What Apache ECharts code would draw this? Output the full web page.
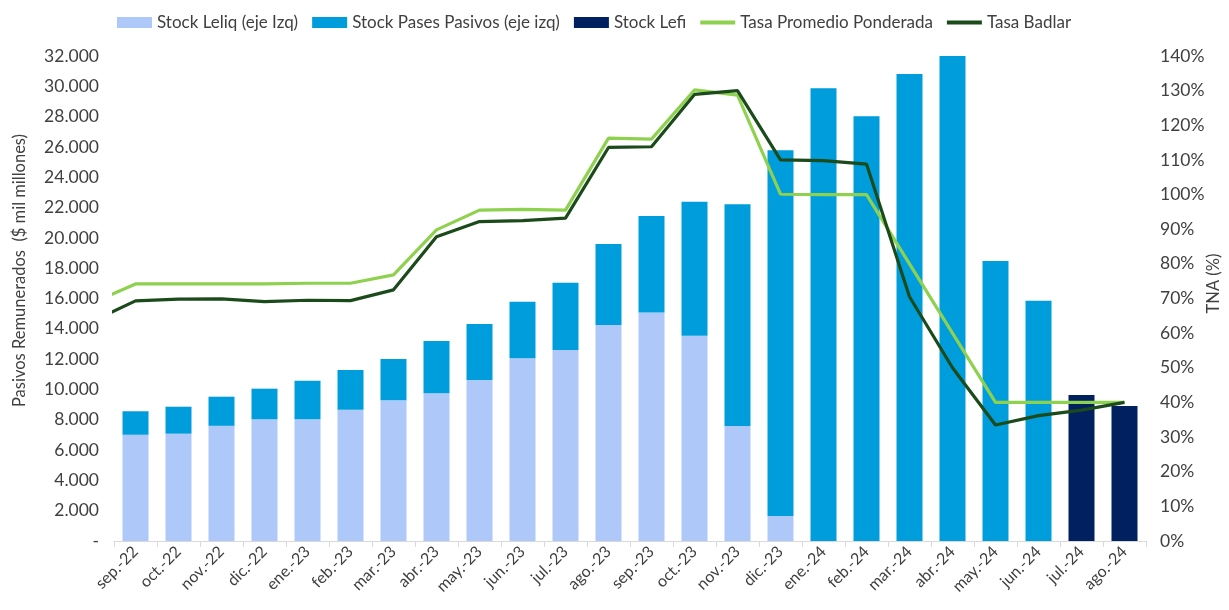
<!DOCTYPE html>
<html>
<head>
<meta charset="utf-8">
<script src="https://cdn.jsdelivr.net/npm/echarts@6/dist/echarts.min.js"></script>
<style>
html,body{margin:0;padding:0;background:#fff;}
#chart{width:1229px;height:610px;}
</style>
</head>
<body>
<div id="chart"></div>
<script>
const categories = ['sep.-22','oct.-22','nov.-22','dic.-22','ene.-23','feb.-23','mar.-23','abr.-23','may.-23','jun.-23','jul.-23','ago.-23','sep.-23','oct.-23','nov.-23','dic.-23','ene.-24','feb.-24','mar.-24','abr.-24','may.-24','jun.-24','jul.-24','ago.-24'];
const stockLeliq = [7010,7080,7600,8030,8030,8660,9280,9750,10630,12060,12600,14250,15080,13550,7590,1650,null,null,null,null,null,null,null,null];
const stockPases = [1550,1780,1920,2020,2550,2620,2730,3450,3690,3730,4440,5350,6360,8840,14630,24130,29870,28020,30810,32070,18470,15850,null,null];
const stockLefi = [null,null,null,null,null,null,null,null,null,null,null,null,null,null,null,null,null,null,null,null,null,null,9630,8900];
// line series start one month earlier (ago.-22), partly hidden by the plot edge
const lineMonths = ['ago.-22'].concat(categories);
const tasaPromedio = [68.8,74.2,74.2,74.2,74.2,74.4,74.4,76.8,89.8,95.5,95.7,95.5,116.3,116.0,130.2,128.7,100.1,100,100,80,60,40,40,40,40];
const tasaBadlar = [63.5,69.3,69.8,69.9,69.1,69.5,69.4,72.5,87.8,92.2,92.5,93.2,113.6,113.8,128.9,130.0,110.0,109.8,108.8,70.5,50.0,33.5,36.2,37.8,40.0];
const leftTicks = {min:0, max:32000, interval:2000};
const rightTicks = {min:0, max:140, interval:10};

const txt = '#404040';
const font = 'Lato, "Open Sans", sans-serif';
const toXY = arr => arr.map((v,i)=>[i-1, v]);
const lineIcon = 'path://M0,0H30V3.4H0Z';

const chart = echarts.init(document.getElementById('chart'), null, {renderer:'canvas'});
chart.setOption({
  animation:false,
  textStyle:{fontFamily:font, color:txt},
  legend:{
    top:9, left:112, itemGap:14, itemWidth:35, itemHeight:11,
    textStyle:{fontSize:17, color:txt, fontFamily:font},
    data:[
      {name:'Stock Leliq (eje Izq)', icon:'rect'},
      {name:'Stock Pases Pasivos (eje izq)', icon:'rect'},
      {name:'Stock Lefi', icon:'rect'},
      {name:'Tasa Promedio Ponderada', icon:lineIcon},
      {name:'Tasa Badlar', icon:lineIcon}
    ]
  },
  grid:{left:114, right:83, top:56, bottom:69, containLabel:false, outerBoundsMode:'none'},
  xAxis:[
    {type:'category', data:categories, boundaryGap:true,
     axisLine:{lineStyle:{color:'#d9d9d9'}},
     axisTick:{show:true, length:6, lineStyle:{color:'#d9d9d9'}},
     axisLabel:{rotate:45, fontSize:16, color:txt, margin:8, interval:0}},
    {type:'value', min:-0.5, max:categories.length-0.5, show:false}
  ],
  yAxis:[
    {type:'value', min:leftTicks.min, max:leftTicks.max, interval:leftTicks.interval,
     splitLine:{show:false}, axisLine:{show:false}, axisTick:{show:false},
     axisLabel:{fontSize:17.5, color:txt, margin:15,
       formatter:v=> v===0 ? '-' : String(v).replace(/\B(?=(\d{3})+(?!\d))/g,'.')},
     name:'Pasivos Remunerados  ($ mil millones)', nameLocation:'middle', nameGap:86, nameRotate:90,
     nameMoveOverlap:false,
     nameTextStyle:{fontSize:16.5, color:txt, padding:[0,0,0,56]}},
    {type:'value', position:'right', min:rightTicks.min, max:rightTicks.max, interval:rightTicks.interval,
     splitLine:{show:false}, axisLine:{show:false}, axisTick:{show:false},
     axisLabel:{fontSize:17.5, color:txt, margin:14, formatter:'{value}%'},
     name:'TNA (%)', nameLocation:'middle', nameGap:59, nameRotate:90,
     nameMoveOverlap:false,
     nameTextStyle:{fontSize:16.5, color:txt, padding:[0,0,0,30]}}
  ],
  series:[
    {name:'Stock Leliq (eje Izq)', type:'bar', stack:'s', data:stockLeliq, barWidth:26, itemStyle:{color:'#AEC8FA'}},
    {name:'Stock Pases Pasivos (eje izq)', type:'bar', stack:'s', data:stockPases, barWidth:26, itemStyle:{color:'#009DDC'}},
    {name:'Stock Lefi', type:'bar', stack:'s', data:stockLefi, barWidth:26, itemStyle:{color:'#002060'}},
    {name:'Tasa Promedio Ponderada', type:'line', xAxisIndex:1, yAxisIndex:1, data:toXY(tasaPromedio),
     symbol:'none', clip:true, lineStyle:{width:3.2, color:'#8ED14F'}, itemStyle:{color:'#8ED14F'}},
    {name:'Tasa Badlar', type:'line', xAxisIndex:1, yAxisIndex:1, data:toXY(tasaBadlar),
     symbol:'none', clip:true, lineStyle:{width:3.2, color:'#1B4A1B'}, itemStyle:{color:'#1B4A1B'}}
  ]
});
</script>
</body>
</html>
